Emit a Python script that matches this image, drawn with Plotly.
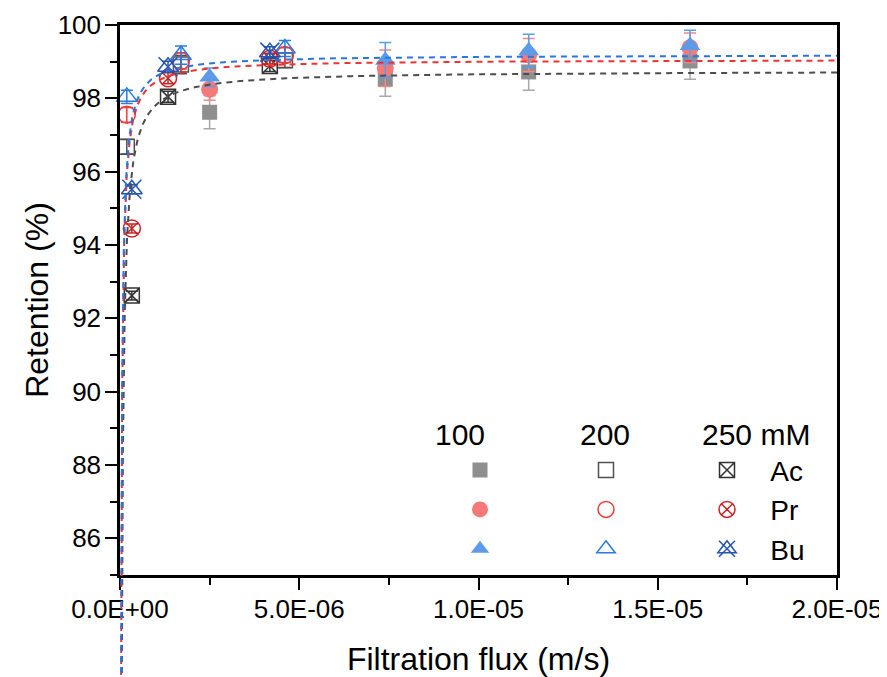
import numpy as np
import plotly.graph_objects as go

# ---------------- data (flux in m/s, retention in %) ----------------
flux_100 = [2.5e-6, 7.4e-6, 11.4e-6, 15.9e-6]
ac_100 = [97.62, 98.52, 98.72, 99.02]
ac_100_err = [0.45, 0.46, 0.50, 0.50]
pr_100 = [98.25, 98.82, 99.18, 99.38]
pr_100_err = [0.30, 0.50, 0.45, 0.40]
bu_100 = [98.58, 99.04, 99.30, 99.44]
bu_100_err = [0.25, 0.48, 0.45, 0.42]

flux_200 = [0.19e-6, 1.70e-6, 4.60e-6]
ac_200 = [96.68, 98.92, 99.04]
ac_200_err = [0.20, 0.25, 0.20]
pr_200 = [97.55, 99.02, 99.18]
pr_200_err = [0.20, 0.22, 0.20]
bu_200 = [98.04, 99.18, 99.36]
bu_200_err = [0.18, 0.25, 0.22]

flux_250 = [0.33e-6, 1.34e-6, 4.18e-6]
ac_250 = [92.62, 98.04, 98.88]
ac_250_err = [0.12, 0.15, 0.15]
pr_250 = [94.45, 98.55, 99.08]
pr_250_err = [0.12, 0.15, 0.15]
bu_250 = [95.52, 98.86, 99.26]
bu_250_err = [0.12, 0.15, 0.15]

# fitted model R = Rmax * J / (J + K), one per solute
fit_names = ["Ac", "Pr", "Bu"]
fit_rmax = [98.75, 99.06, 99.19]
fit_k = [9.5e-9, 6.2e-9, 6.0e-9]

series_labels = ["Ac", "Pr", "Bu"]
header_labels = ["100", "200", "250 mM"]
x_tickvals = [0, 5e-6, 1e-5, 1.5e-5, 2e-5]
x_ticktext = ["0.0E+00", "5.0E-06", "1.0E-05", "1.5E-05", "2.0E-05"]

# ---------------- styling ----------------
OFF = 8                      # page body margin
W, H = 887 - OFF, 677 - OFF  # figure size so that the page fits the window
PLOT_L, PLOT_R, PLOT_T, PLOT_B = 120, 837, 25, 575   # page pixels of the frame
M_L = PLOT_L - OFF
M_T = PLOT_T - OFF
M_R = W - (PLOT_R - OFF)
M_B = 0
plot_h = H - M_T - M_B
plot_w = W - M_L - M_R
d_bot = (H - M_B - (PLOT_B - OFF)) / plot_h
Y_MIN, Y_MAX = 85, 100
y2_lo = Y_MAX - (Y_MAX - Y_MIN) / (1 - d_bot)

FONT = "Liberation Sans, Arial, sans-serif"

def px_x(p):
    return (p - OFF - M_L) / plot_w

def px_y(p):
    return (H - M_B - (p - OFF)) / plot_h

fig = go.Figure()

def add_pts(x, y, err, symbol, color, size, errcolor, legend, name, lw=1.5):
    fig.add_trace(go.Scatter(
        x=x, y=y, mode="markers", name=name, legend=legend,
        marker=dict(symbol=symbol, color=color, size=size,
                    line=dict(color=color, width=lw)),
        error_y=dict(type="data", array=err, color=errcolor,
                     thickness=1.5, width=6),
        cliponaxis=False,
    ))

# 100 mM (filled)
add_pts(flux_100, ac_100, ac_100_err, "square", "#8f8f8f", 15, "#a8a8a8", "legend", "", 0)
add_pts(flux_100, pr_100, pr_100_err, "circle", "#f47a7a", 17, "#f08888", "legend", "", 0)
add_pts(flux_100, bu_100, bu_100_err, "triangle-up", "#5b9bea", 18, "#5b9bea", "legend", "", 0)
# 200 mM (open)
add_pts(flux_200, ac_200, ac_200_err, "square-open", "#505050", 15, "#505050", "legend2", "")
add_pts(flux_200, pr_200, pr_200_err, "circle-open", "#ee3b3b", 17, "#ee3b3b", "legend2", "")
add_pts(flux_200, bu_200, bu_200_err, "triangle-up-open", "#2a7ae2", 18, "#2a7ae2", "legend2", "")
# 250 mM (crossed)
nb = "\u00a0\u00a0\u00a0"
add_pts(flux_250, ac_250, ac_250_err, "square-x-open", "#333333", 15, "#333333", "legend3", nb + series_labels[0])
add_pts(flux_250, pr_250, pr_250_err, "circle-x-open", "#cc2222", 17, "#cc2222", "legend3", nb + series_labels[1])
add_pts(flux_250, bu_250, bu_250_err, "triangle-up-open", "#2454b0", 18, "#2454b0", "legend3", nb + series_labels[2])
fig.add_trace(go.Scatter(
    x=flux_250, y=bu_250, mode="markers", name="", legend="legend4",
    marker=dict(symbol="x-thin-open", color="#2454b0", size=19,
                line=dict(color="#2454b0", width=1.5)),
    cliponaxis=False,
))

# fitted curves (on an invisible full-height axis so they continue below the frame)
fit_colors = ["#4d4d4d", "#ee3333", "#2a75e0"]
J = np.geomspace(1e-10, 2e-5, 800)
for name, rmax, k, c in zip(fit_names, fit_rmax, fit_k, fit_colors):
    fig.add_trace(go.Scatter(
        x=J, y=rmax * J / (J + k), mode="lines", xaxis="x", yaxis="y2", showlegend=False,
        line=dict(color=c, width=2, dash="6px,5px"),
    ))

axis_common = dict(showline=True, linecolor="black", linewidth=2.5, mirror=True,
                   ticks="outside", tickwidth=2, tickcolor="black", showgrid=False,
                   zeroline=False, tickfont=dict(family=FONT, size=26, color="black"),
                   automargin=False)

fig.update_layout(
    width=W, height=H,
    margin=dict(l=M_L, r=M_R, t=M_T, b=M_B),
    paper_bgcolor="white", plot_bgcolor="rgba(0,0,0,0)",
    font=dict(family=FONT, color="black"),
    xaxis=dict(range=[0, 2e-5], domain=[0, 1], anchor="y",
               tickmode="array", tickvals=x_tickvals, ticktext=x_ticktext, ticklen=12,
               minor=dict(dtick=2.5e-6, tick0=0, ticklen=7, tickwidth=2, ticks="outside",
                          tickcolor="black"),
               ticklabelstandoff=-3,
               title=dict(text="Filtration flux (m/s)", font=dict(family=FONT, size=32),
                          standoff=25),
               **axis_common),
    yaxis=dict(range=[Y_MIN, Y_MAX], domain=[d_bot, 1], anchor="x",
               tick0=0, dtick=2, ticklen=12,
               minor=dict(dtick=1, tick0=0, ticklen=7, tickwidth=2, ticks="outside",
                          tickcolor="black"),
               ticklabelstandoff=-1,
               title=dict(text="Retention (%)", font=dict(family=FONT, size=32),
                          standoff=0),
               **axis_common),
    yaxis2=dict(range=[y2_lo, Y_MAX], domain=[0, 1], anchor="free", position=0,
                visible=False, showgrid=False, zeroline=False),
    showlegend=True,
)

leg_common = dict(font=dict(family=FONT, size=28, color="black"), bgcolor="rgba(0,0,0,0)",
                  borderwidth=0, xanchor="left", yanchor="top", tracegroupgap=0,
                  orientation="v", itemsizing="trace", traceorder="normal")
row1_px = 470
leg_top_px = row1_px - 24.7
col_sym_px = [480, 606, 727]
fig.update_layout(
    legend=dict(x=px_x(col_sym_px[0] - 20), y=px_y(leg_top_px), **leg_common),
    legend2=dict(x=px_x(col_sym_px[1] - 20), y=px_y(leg_top_px), **leg_common),
    legend3=dict(x=px_x(col_sym_px[2] - 20), y=px_y(leg_top_px), **leg_common),
    legend4=dict(x=px_x(col_sym_px[2] - 20), y=px_y(leg_top_px + 2 * 39.4), **leg_common),
)

header_x_px = [460, 605, 756]
for txt, hx in zip(header_labels, header_x_px):
    fig.add_annotation(text=txt, xref="paper", yref="paper", x=px_x(hx), y=px_y(435),
                       xanchor="center", yanchor="middle", showarrow=False,
                       font=dict(family=FONT, size=30, color="black"))

fig.write_html("out.html")
